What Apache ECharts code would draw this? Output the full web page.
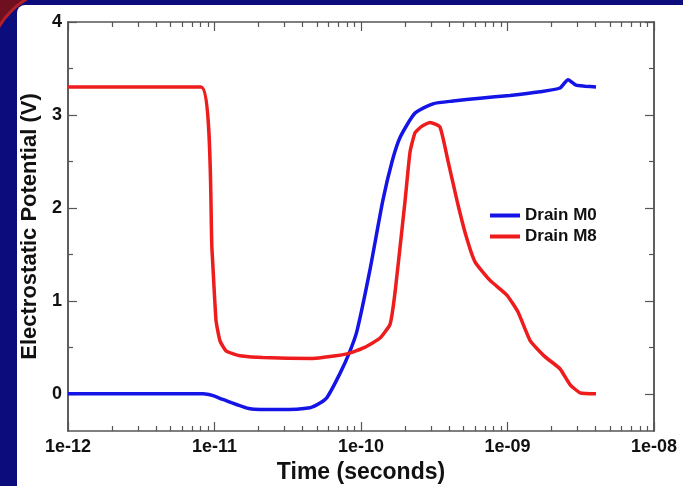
<!DOCTYPE html>
<html>
<head>
<meta charset="utf-8">
<script src="https://cdn.jsdelivr.net/npm/echarts@6/dist/echarts.min.js"></script>
<style>
  html, body { margin: 0; padding: 0; background: #0c0c7c; }
  #chart { width: 683px; height: 486px; }
</style>
</head>
<body>
<div id="chart"></div>
<script>
const chart = echarts.init(document.getElementById("chart"));

// ---- data ----
const X_LABELS = [1e-12, 1e-11, 1e-10, 1e-9, 1e-8];
const Y_LABELS = [0, 1, 2, 3, 4];
const Y_MINOR = [0.5, 1.5, 2.5, 3.5];

const M0_T = [1e-12, 8.35e-12, 9.77e-12, 1.14e-11, 1.75e-11, 2.8e-11, 4.49e-11, 5.25e-11, 5.86e-11,
  7.19e-11, 8.41e-11, 9.4e-11, 1.15e-10, 1.41e-10, 1.63e-10, 1.85e-10, 2.34e-10, 3.1e-10, 4.25e-10,
  6.49e-10, 1.04e-9, 1.67e-9, 2.28e-9, 2.59e-9, 2.94e-9, 3.38e-9, 4.02e-9];
const M0_V = [0, 0, -0.02, -0.06, -0.16, -0.17, -0.15, -0.1, -0.04,
  0.22, 0.46, 0.68, 1.33, 2.08, 2.5, 2.76, 3.02, 3.12, 3.15,
  3.18, 3.21, 3.25, 3.29, 3.38, 3.32, 3.31, 3.3];

const M8_T = [1e-12, 8.09e-12, 9.62e-12, 1.024e-11, 1.09e-11, 1.2e-11, 1.34e-11, 1.49e-11,
  2.14e-11, 4.7e-11, 8.02e-11, 1.06e-10, 1.35e-10, 1.58e-10, 1.71e-10, 2.0e-10, 2.16e-10, 2.34e-10,
  2.61e-10, 2.96e-10, 3.46e-10, 3.93e-10, 4.52e-10, 5.21e-10, 6.0e-10, 7.6e-10, 9.93e-10, 1.18e-9,
  1.43e-9, 1.8e-9, 2.28e-9, 2.67e-9, 3.13e-9, 4.02e-9];
const M8_V = [3.3, 3.3, 1.54, 0.79, 0.57, 0.46, 0.43, 0.41,
  0.39, 0.38, 0.43, 0.5, 0.6, 0.75, 1.1, 2.08, 2.6, 2.81,
  2.88, 2.92, 2.87, 2.5, 2.08, 1.7, 1.42, 1.22, 1.06, 0.88,
  0.57, 0.4, 0.27, 0.1, 0.01, 0.0];

// minor ticks 2..9 per decade, in log10 units for the overlay axes
const X_MINOR = [];
for (let d = -12; d < -8; d++) {
  for (let k = 2; k <= 9; k++) X_MINOR.push(d + Math.log10(k));
}

const FONT = "Liberation Sans";
const FRAME = "#555";
const NAVY = "#0c0c7c";

function pairs(t, v) { return t.map((x, i) => [x, v[i]]); }

function logAxis(pos, showLabel) {
  return {
    type: "log", logBase: 10, position: pos, min: 1e-12, max: 1e-8,
    axisLine: { show: true, onZero: false, lineStyle: { color: FRAME, width: 1.5 } },
    axisTick: { show: true, inside: true, length: 9, lineStyle: { color: FRAME, width: 1.2 } },
    axisLabel: {
      show: showLabel, margin: 7, color: "#111", fontFamily: FONT, fontWeight: "bold", fontSize: 18,
      formatter: v => "1e-" + String(-Math.round(Math.log10(v))).padStart(2, "0")
    },
    splitLine: { show: false }
  };
}
function minorX(pos) {
  return {
    type: "value", position: pos, min: -12, max: -8,
    axisLine: { show: false, onZero: false }, axisLabel: { show: false }, splitLine: { show: false },
    axisTick: { show: true, inside: true, length: 5, customValues: X_MINOR, lineStyle: { color: FRAME, width: 1.2 } }
  };
}
function yAxis(pos, showLabel, ticks, len) {
  return {
    type: "value", position: pos, min: -0.4, max: 4,
    axisLine: { show: true, onZero: false, lineStyle: { color: FRAME, width: 1.5 } },
    axisTick: { show: true, inside: true, length: len, customValues: ticks, lineStyle: { color: FRAME, width: 1.2 } },
    axisLabel: { show: showLabel, customValues: Y_LABELS, margin: 6, color: "#111", fontFamily: FONT, fontWeight: "bold", fontSize: 18 },
    splitLine: { show: false }
  };
}

const yMain = yAxis("left", true, Y_LABELS, 9);
yMain.name = "Electrostatic Potential (V)";
yMain.nameLocation = "middle";
yMain.nameGap = 22;
yMain.nameTextStyle = { color: "#111", fontFamily: FONT, fontWeight: "bold", fontSize: 22 };

const xMain = logAxis("bottom", true);
xMain.name = "Time (seconds)";
xMain.nameLocation = "middle";
xMain.nameGap = 24;
xMain.nameTextStyle = { color: "#111", fontFamily: FONT, fontWeight: "bold", fontSize: 23 };

chart.setOption({
  backgroundColor: NAVY,
  animation: false,
  graphic: [
    { type: "rect", silent: true, z: -10, shape: { x: 0, y: 0, width: 30, height: 40 }, style: { fill: "#6e1020" } },
    { type: "circle", silent: true, z: -9, shape: { cx: 72, cy: 72, r: 86 }, style: { fill: NAVY } },
    { type: "arc", silent: true, z: -9, shape: { cx: 72, cy: 72, r: 86, startAngle: -2.62, endAngle: -2.08, clockwise: true }, style: { fill: null, stroke: "#b3202a", lineWidth: 3 } },
    { type: "rect", silent: true, z: -8, shape: { x: 17, y: 5, width: 700, height: 500, r: [8, 0, 0, 0] }, style: { fill: "#ffffff" } }
  ],
  grid: { left: 68, right: 29, top: 22, bottom: 55, outerBoundsMode: "none" },
  legend: {
    orient: "vertical", left: 485, top: 202, itemWidth: 30, itemHeight: 4, itemGap: 4,
    icon: "rect",
    textStyle: { color: "#111", fontFamily: FONT, fontWeight: "bold", fontSize: 17 },
    data: ["Drain M0", "Drain M8"]
  },
  xAxis: [xMain, minorX("bottom"), logAxis("top", false), minorX("top")],
  yAxis: [yMain, yAxis("left", false, Y_MINOR, 5), yAxis("right", false, Y_LABELS, 9), yAxis("right", false, Y_MINOR, 5)],
  series: [
    {
      name: "Drain M0", type: "line", xAxisIndex: 0, yAxisIndex: 0,
      data: pairs(M0_T, M0_V), showSymbol: false, symbol: "none",
      smooth: 0.2,
      lineStyle: { color: "#1414e6", width: 3.5 }, itemStyle: { color: "#1414e6" }
    },
    {
      name: "Drain M8", type: "line", xAxisIndex: 0, yAxisIndex: 0,
      data: pairs(M8_T, M8_V), showSymbol: false, symbol: "none",
      smooth: 0.15,
      lineStyle: { color: "#ee1c1c", width: 3.5 }, itemStyle: { color: "#ee1c1c" }
    }
  ]
});
</script>
</body>
</html>
